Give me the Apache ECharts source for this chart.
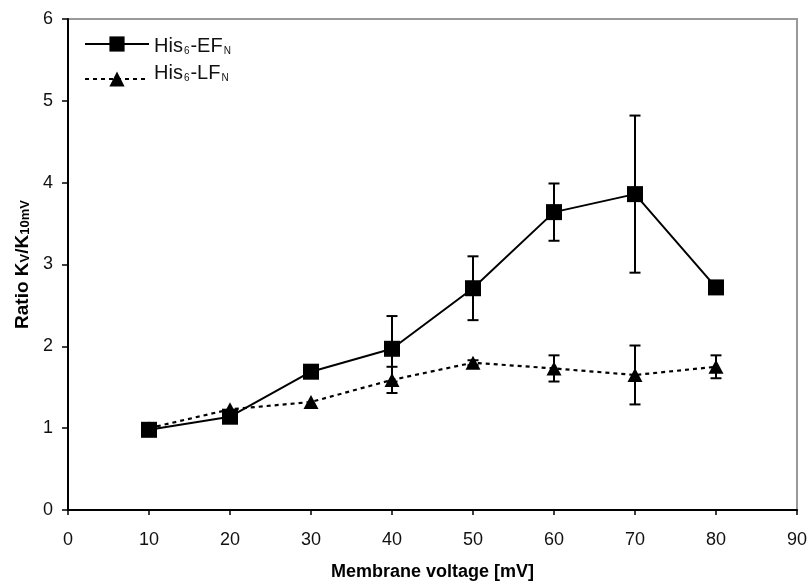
<!DOCTYPE html>
<html><head><meta charset="utf-8">
<script src="https://cdn.jsdelivr.net/npm/echarts@6/dist/echarts.min.js"></script>
<style>html,body{margin:0;padding:0;background:#fff}#c{width:812px;height:588px}</style>
</head><body><div id="c"></div>
<script>
var voltages = [10, 20, 30, 40, 50, 60, 70, 80];
var efValues = [0.98, 1.14, 1.69, 1.97, 2.71, 3.64, 3.86, 2.72];
var efErrors = [0, 0, 0, 0.40, 0.39, 0.35, 0.96, 0];
var lfValues = [1.00, 1.23, 1.32, 1.59, 1.80, 1.73, 1.65, 1.75];
var lfErrors = [0, 0, 0, 0.16, 0.03, 0.16, 0.36, 0.14];
var xTicks = [0, 10, 20, 30, 40, 50, 60, 70, 80, 90];
var yTicks = [0, 1, 2, 3, 4, 5, 6];

function pairs(vals){ return voltages.map(function(v,i){ return [v, vals[i]]; }); }
function errData(vals, errs){
  var out = [];
  voltages.forEach(function(v,i){ if (errs[i] > 0) out.push([v, vals[i]-errs[i], vals[i]+errs[i]]); });
  return out;
}
function errRender(params, api){
  var x = api.value(0);
  var lo = api.coord([x, api.value(1)]);
  var hi = api.coord([x, api.value(2)]);
  var hw = 5.5;
  var st = {stroke:'#000', lineWidth:2};
  return {type:'group', children:[
    {type:'line', shape:{x1:lo[0],y1:lo[1],x2:hi[0],y2:hi[1]}, style:st},
    {type:'line', shape:{x1:lo[0]-hw,y1:lo[1],x2:lo[0]+hw,y2:lo[1]}, style:st},
    {type:'line', shape:{x1:hi[0]-hw,y1:hi[1],x2:hi[0]+hw,y2:hi[1]}, style:st}
  ]};
}
var font = 'Liberation Sans, Arial, sans-serif';
var legendRich = {
  a:{fontFamily:font, fontSize:20, color:'#111', verticalAlign:'bottom', lineHeight:22},
  s:{fontFamily:font, fontSize:10, color:'#111', verticalAlign:'bottom', lineHeight:17, padding:[0,1,0,1]}
};
function legendFmt(n){ return n==='EF' ? '{a|His}{s|6}{a|-EF}{s|N}' : '{a|His}{s|6}{a|-LF}{s|N}'; }
var chart = echarts.init(document.getElementById('c'));
chart.setOption({
  animation:false,
  backgroundColor:'#fff',
  grid:{left:68, right:15, top:19, bottom:78, show:true, borderColor:'#999', borderWidth:2, backgroundColor:'transparent'},
  legend:[{
    orient:'horizontal', left:79, top:31, itemWidth:64, itemHeight:19, itemGap:10,
    textStyle:{fontFamily:font, fontSize:20, color:'#111', rich:legendRich, padding:[2,0,0,0]},
    data:['EF'], formatter:legendFmt
  },{
    orient:'horizontal', left:79, top:58, itemWidth:64, itemHeight:19, itemGap:10,
    textStyle:{fontFamily:font, fontSize:20, color:'#111', rich:legendRich, padding:[0,0,14,0]},
    data:['LF'], formatter:legendFmt
  }],
  xAxis:{
    type:'value', min:0, max:90, interval:10,
    name:'Membrane voltage [mV]', nameLocation:'middle', nameGap:53,
    nameTextStyle:{fontFamily:font, fontSize:18, fontWeight:'bold', color:'#000'},
    axisLine:{onZero:false, lineStyle:{color:'#000', width:2}},
    axisTick:{show:true, length:5, lineStyle:{color:'#000', width:1.5}},
    axisLabel:{fontFamily:font, fontSize:18, color:'#111', margin:21,
      formatter:function(v){ return xTicks.indexOf(v) >= 0 ? String(v) : ''; }},
    splitLine:{show:false}
  },
  yAxis:{
    type:'value', min:0, max:6, interval:1,
    name:'{b|Ratio K}{s|V}{b|/K}{s|10mV}', nameLocation:'middle', nameGap:34, nameRotate:90,
    nameTextStyle:{fontFamily:font, fontSize:19, fontWeight:'bold', color:'#000',
      rich:{
        b:{fontFamily:font, fontSize:19, fontWeight:'bold', color:'#000', verticalAlign:'bottom', lineHeight:22},
        s:{fontFamily:font, fontSize:13, fontWeight:'bold', color:'#000', verticalAlign:'bottom', lineHeight:20}
      }},
    axisLine:{show:true, onZero:false, lineStyle:{color:'#000', width:2}},
    axisTick:{show:true, length:6, lineStyle:{color:'#000', width:1.5}},
    axisLabel:{fontFamily:font, fontSize:18, color:'#111', margin:15,
      formatter:function(v){ return yTicks.indexOf(v) >= 0 ? String(v) : ''; }},
    splitLine:{show:false}
  },
  series:[
    {type:'custom', name:'efErr', renderItem:errRender, data:errData(efValues, efErrors), z:3, silent:true},
    {type:'custom', name:'lfErr', renderItem:errRender, data:errData(lfValues, lfErrors), z:3, silent:true},
    {type:'line', name:'LF', data:pairs(lfValues), symbol:'triangle', symbolSize:[15,14], showSymbol:true,
      lineStyle:{color:'#000', width:2.2, type:[4,4]}, itemStyle:{color:'#000'}, z:4},
    {type:'line', name:'EF', data:pairs(efValues), symbol:'rect', symbolSize:16, showSymbol:true,
      lineStyle:{color:'#000', width:2}, itemStyle:{color:'#000'}, z:5}
  ]
});
</script></body></html>
